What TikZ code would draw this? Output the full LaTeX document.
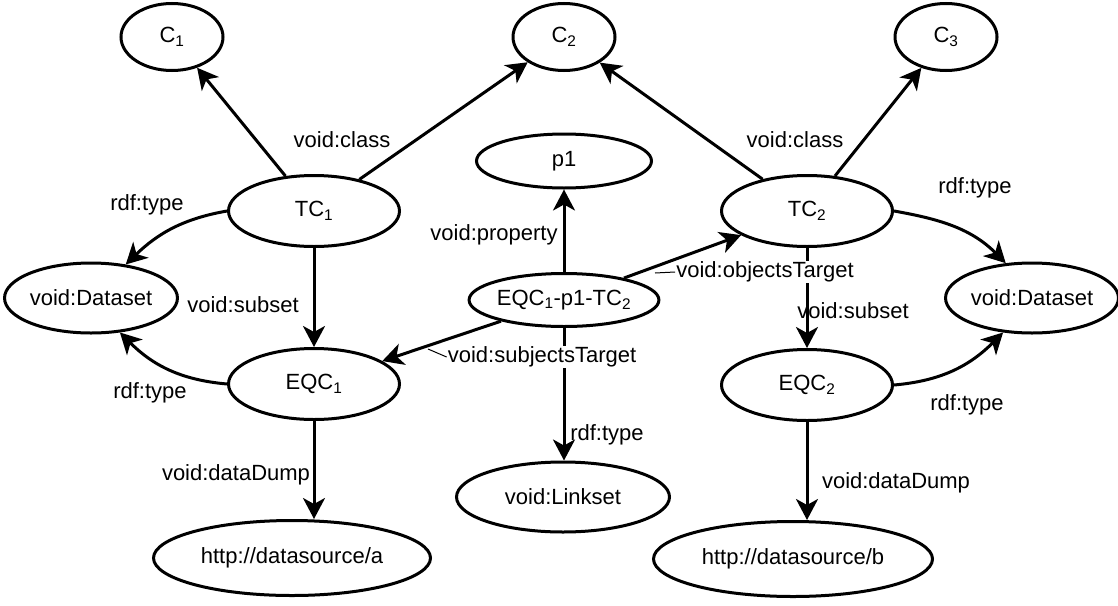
\documentclass[tikz,border=0pt]{standalone}
\usepackage{fontspec}
\setmainfont{Liberation Sans}
\usetikzlibrary{arrows.meta,shapes.geometric}
\begin{document}
\begin{tikzpicture}[x=1pt,y=-1pt,
  ell/.style={ellipse, draw, line width=3pt, inner sep=0pt, font=\fontsize{22}{26}\selectfont},
  lbl/.style={font=\fontsize{22}{26}\selectfont, inner sep=1pt},
  wlbl/.style={lbl, fill=white},
  arr/.style={line width=3pt, -{Stealth[length=21pt,width=22pt,inset=6pt]}},
  lead/.style={line width=1pt}]
\useasboundingbox (0,0) rectangle (1118,605);
% nodes
\node[ell, minimum width=102pt, minimum height=67pt] (C1) at (172,37) {C\textsubscript{1}};
\node[ell, minimum width=102pt, minimum height=67pt] (C2) at (564,37) {C\textsubscript{2}};
\node[ell, minimum width=102pt, minimum height=67pt] (C3) at (946,37) {C\textsubscript{3}};
\node[ell, minimum width=175pt, minimum height=54pt] (p1) at (564,161) {p1};
\node[ell, minimum width=171pt, minimum height=71pt] (TC1) at (314,211) {TC\textsubscript{1}};
\node[ell, minimum width=171pt, minimum height=71pt] (TC2) at (807,211) {TC\textsubscript{2}};
\node[ell, minimum width=162pt, minimum height=70pt] (DS1) at (91,298) {void:Dataset};
\node[ell, minimum width=162pt, minimum height=70pt] (DS2) at (1032,298) {void:Dataset};
\node[ell, minimum width=175pt, minimum height=53pt] (EQCp) at (564,300) {EQC\textsubscript{1}-p1-TC\textsubscript{2}};
\node[ell, minimum width=171pt, minimum height=71pt] (EQC1) at (314,384) {EQC\textsubscript{1}};
\node[ell, minimum width=171pt, minimum height=71pt] (EQC2) at (807,385) {EQC\textsubscript{2}};
\node[ell, minimum width=213pt, minimum height=70pt] (LS) at (563,497) {void:Linkset};
\node[ell, minimum width=277pt, minimum height=75pt] (HA) at (292,558) {http://datasource/a};
\node[ell, minimum width=279pt, minimum height=75pt] (HB) at (793,559) {http://datasource/b};
% edges
\draw[arr] (TC1) -- (C1);
\draw[arr] (TC1) -- (C2);
\draw[arr] (TC2) -- (C2);
\draw[arr] (TC2) -- (C3);
\draw[arr] (TC1.west) to[out=190,in=44] (DS1.44);
\draw[arr] (EQC1.west) to[out=175,in=-45] (DS1.-50);
\draw[arr] (TC2.east) to[out=-10,in=135] (DS2.127);
\draw[arr] (EQC2.east) to[out=5,in=-135] (DS2.-130);
\draw[arr] (TC1.south) -- (EQC1.north);
\draw[arr] (TC2.south) -- (EQC2.north);
\draw[arr] (EQC1.south) -- (HA.north -| EQC1.south);
\draw[arr] (EQC2.south) -- (HB.north -| EQC2.south);
\draw[arr] (EQCp.north) -- (p1.south);
\draw[arr] (EQCp.south) -- (LS.north -| EQCp.south);
\draw[arr] (EQCp) -- (EQC1);
\draw[arr] (EQCp) -- (TC2);
% labels
\node[lbl] (l1) at (342,140) {void:class};
\node[lbl] (l2) at (795,140) {void:class};
\node[lbl] (l3) at (147,205) {rdf:type};
\node[lbl] (l4) at (975,188) {rdf:type};
\node[lbl] (l5) at (150,393) {rdf:type};
\node[lbl] (l6) at (967,405) {rdf:type};
\node[lbl] (l7) at (243,305) {void:subset};
\node[lbl] (l8) at (853,311) {void:subset};
\node[lbl] (l9) at (494,235) {void:property};
\node[lbl] (l10) at (607,435) {rdf:type};
\node[lbl] (l11) at (236,475) {void:dataDump};
\node[lbl] (l12) at (896,483) {void:dataDump};
\node[wlbl] (l13) at (765,272) {void:objectsTarget};
\node[wlbl] (l14) at (542,357) {void:subjectsTarget};
\coordinate (a1) at (655,273);
\coordinate (a2) at (428,349);
\draw[lead] (a1) -- (l13.west);
\draw[lead] (a2) -- (l14.west);
\end{tikzpicture}
\end{document}
